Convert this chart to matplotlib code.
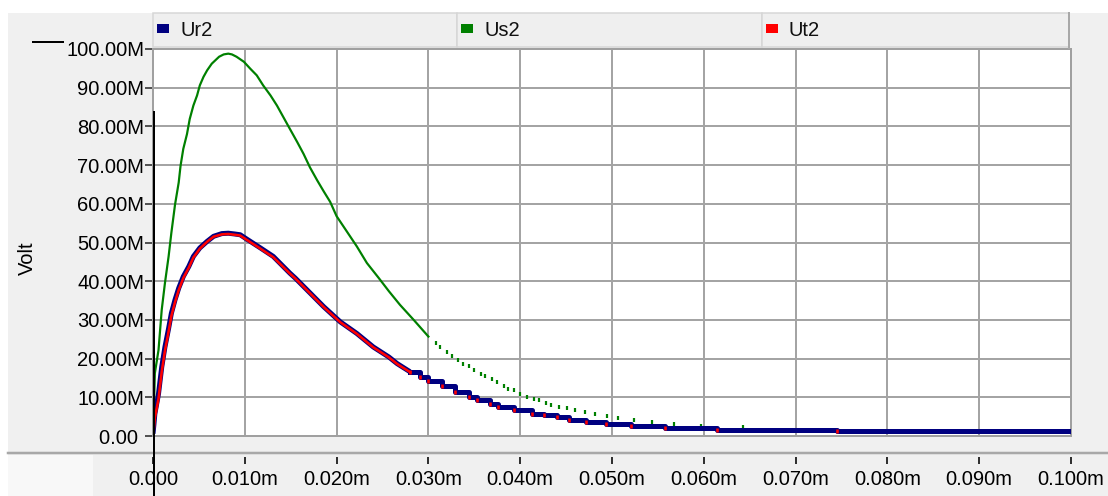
import numpy as np
import matplotlib
matplotlib.use("Agg")
import matplotlib.pyplot as plt
from matplotlib.patches import Rectangle
from matplotlib.lines import Line2D

W, H = 1108, 496

# time in the axis unit ("m"), voltage in M
us2_t = [0.0, 0.00005, 0.0002, 0.0006, 0.00095, 0.0013, 0.0017, 0.0020, 0.0024, 0.0028,
         0.0030, 0.0033, 0.0037, 0.0040, 0.0044, 0.0048, 0.0051, 0.0055, 0.0059, 0.0064,
         0.0072, 0.0077, 0.0082, 0.0086, 0.0091, 0.0099, 0.0106, 0.0113, 0.0120, 0.0128,
         0.0135, 0.0142, 0.0149, 0.0157, 0.0164, 0.0171, 0.0179, 0.0186, 0.0193, 0.0200,
         0.0211, 0.0222, 0.0233, 0.0246, 0.0257, 0.0269, 0.0284, 0.0300,
         0.0308, 0.0313, 0.0320, 0.0326, 0.0332, 0.0338, 0.0344, 0.0350, 0.0357, 0.0362,
         0.0369, 0.0375, 0.0382, 0.0387, 0.0393, 0.0400, 0.0407, 0.0415, 0.0421, 0.0428,
         0.0434, 0.0442, 0.0451, 0.0460, 0.0471, 0.0481, 0.0495, 0.0507, 0.0524, 0.0544,
         0.0567, 0.0597, 0.0643, 0.0723]
us2_v = [0.0, 3.0, 16.2, 22.2, 32.6, 39.5, 46.4, 52.5, 59.8, 65.5,
         69.8, 74.2, 78.0, 81.9, 85.4, 88.0, 90.6, 92.8, 94.5, 96.2,
         98.0, 98.6, 98.8, 98.6, 98.0, 96.7, 94.9, 93.2, 90.6, 88.0,
         85.4, 82.4, 79.4, 76.0, 72.9, 69.4, 66.0, 63.2, 60.5, 56.8,
         52.9, 49.0, 44.7, 40.8, 37.4, 33.9, 30.0, 25.7,
         24.1, 23.1, 21.8, 20.6, 19.6, 18.7, 18.0, 17.0, 16.1, 15.4,
         14.6, 13.9, 12.8, 12.2, 11.8, 10.9, 10.2, 9.6, 9.2, 8.6,
         8.1, 7.6, 7.2, 6.7, 6.2, 5.7, 5.1, 4.7, 4.2, 3.7,
         3.2, 2.6, 2.2, 1.6]

ur2_t = [0.0, 0.0001, 0.0002, 0.0006, 0.00095, 0.0013, 0.0017, 0.0020, 0.0024, 0.0028,
         0.0033, 0.0039, 0.0044, 0.0051, 0.0059, 0.0066, 0.0075, 0.0082, 0.0089, 0.0095,
         0.0102, 0.0117, 0.0131, 0.0149, 0.0155, 0.0168, 0.0186, 0.0204, 0.0222, 0.0240,
         0.0257, 0.0266, 0.0280, 0.0291, 0.0300, 0.0315, 0.0329, 0.0344, 0.0353, 0.0367,
         0.0376, 0.0393, 0.0413, 0.0426, 0.0440, 0.0453, 0.0472, 0.0493, 0.0521, 0.0558,
         0.0614, 0.0745, 0.1000]
ur2_v = [0.6, 3.0, 5.7, 10.9, 17.8, 23.0, 27.8, 31.7, 35.2, 38.2,
         41.2, 43.8, 46.4, 48.6, 50.3, 51.6, 52.3, 52.4, 52.2, 52.0,
         50.9, 48.6, 46.4, 42.1, 40.8, 37.7, 33.4, 29.5, 26.5, 23.0,
         20.4, 18.7, 16.6, 15.2, 14.2, 12.8, 11.3, 10.0, 9.4, 8.3,
         7.6, 6.8, 5.7, 5.3, 4.8, 4.2, 3.7, 3.2, 2.6, 2.1,
         1.6, 1.2, 1.2]
# Ut2 is sampled at the same times as Ur2
ut2_v = [0.0, 2.0, 4.6, 9.6, 16.6, 22.0, 27.0, 31.0, 34.6, 37.7,
         40.8, 43.5, 46.1, 48.4, 50.2, 51.5, 52.1, 52.2, 52.0, 51.8,
         50.7, 48.4, 46.2, 42.0, 40.7, 37.6, 33.3, 29.4, 26.4, 22.9,
         20.3, 18.6, 16.5, 15.2, 14.2, 12.8, 11.3, 10.0, 9.4, 8.3,
         7.6, 6.8, 5.7, 5.3, 4.8, 4.2, 3.7, 3.2, 2.6, 2.1,
         1.6, 1.2, 1.2]

legend_names = ['Ur2', 'Us2', 'Ut2']
legend_colors = ['#000080', '#008000', '#ff0000']
xticks = [0.0, 0.01, 0.02, 0.03, 0.04, 0.05, 0.06, 0.07, 0.08, 0.09, 0.1]
xtick_labels = ['0.000', '0.010m', '0.020m', '0.030m', '0.040m', '0.050m',
                '0.060m', '0.070m', '0.080m', '0.090m', '0.100m']
yticks = [0, 10, 20, 30, 40, 50, 60, 70, 80, 90, 100]
ytick_labels = ['0.00 ', '10.00M', '20.00M', '30.00M', '40.00M', '50.00M',
                '60.00M', '70.00M', '80.00M', '90.00M', '100.00M']


def fx(x):
    return x / W


def fy(y):
    return 1 - y / H


def pt(p):
    # pixels -> points at 100 dpi
    return p * 0.72


plt.rcParams['font.family'] = ['Liberation Sans', 'DejaVu Sans']
FS = 14.5

fig = plt.figure(figsize=(W / 100, H / 100), dpi=100, facecolor='white')

# gray panel behind everything
fig.add_artist(Rectangle((fx(8), 0), fx(W - 8), fy(13), transform=fig.transFigure,
                         facecolor='#f0f0f0', edgecolor='none', zorder=0))
fig.add_artist(Rectangle((fx(8), 0), fx(85), fy(455), transform=fig.transFigure,
                         facecolor='#f8f8f8', edgecolor='none', zorder=0.5))

ax = fig.add_axes([fx(153), fy(436), fx(1071 - 153), (436 - 49) / H])
ax.set_facecolor('white')
ax.set_xlim(0, 0.1)
ax.set_ylim(0, 100)

ax.grid(True, color='#a4a4a4', lw=pt(2), zorder=1)
ax.set_axisbelow(True)

for s in ['left', 'top', 'right']:
    ax.spines[s].set_color('#a0a0a0')
    ax.spines[s].set_linewidth(pt(2))
ax.spines['bottom'].set_position(('outward', pt(21)))
ax.spines['bottom'].set_visible(False)
ax.add_patch(Rectangle((0, 0), 1, 1, transform=ax.transAxes, fill=False,
                       edgecolor='#a0a0a0', lw=pt(2), clip_on=False, zorder=2))

ax.set_xticks(xticks)
ax.set_xticklabels(xtick_labels, fontsize=FS)
ax.set_yticks(yticks)
ax.set_yticklabels(ytick_labels, fontsize=FS)
ax.tick_params(axis='x', direction='out', length=pt(7), width=pt(2),
               color='#303030', pad=pt(6))
ax.tick_params(axis='y', direction='out', length=pt(8), width=pt(1.5),
               color='#202020', pad=pt(1))

# Us2: continuous while samples are dense, single marks where they thin out
us2_t = np.array(us2_t)
us2_v = np.array(us2_v)
dense = us2_t <= 0.0300
ax.plot(us2_t[dense], us2_v[dense], color='#008000', lw=pt(2.2), zorder=3)
ax.plot(us2_t[~dense], us2_v[~dense], ls='none', marker='|', ms=pt(5),
        mew=pt(2.2), color='#008000', zorder=3)

# Ur2: thick navy, stepped in the tail
ur2_t = np.array(ur2_t)
ur2_v = np.array(ur2_v)
ut2_v = np.array(ut2_v)
k = np.searchsorted(ur2_t, 0.0280) + 1
ax.plot(ur2_t[:k], ur2_v[:k], color='#000080', lw=pt(5), zorder=4,
        solid_capstyle='butt')
ax.step(ur2_t[k - 1:], ur2_v[k - 1:], where='post', color='#000080', lw=pt(5),
        zorder=4)

# Ut2: red on top
ax.plot(ur2_t[:k], ut2_v[:k], color='#ff0000', lw=pt(2.6), zorder=5)
tail = (ur2_t >= 0.0280) & (ur2_t < 0.1)
ax.plot(ur2_t[tail], ut2_v[tail], ls='none', marker='|', ms=pt(5), mew=pt(2.6),
        color='#ff0000', zorder=5)

# legend header
cells = [153, 457, 762, 1069]
for i, name in enumerate(legend_names):
    x0, x1 = cells[i], cells[i + 1]
    fig.add_artist(Rectangle((fx(x0), fy(47)), fx(x1 - x0), (47 - 13) / H,
                             transform=fig.transFigure, facecolor='#efefef',
                             edgecolor='#d6d6d6', lw=pt(1.5), zorder=1))
    fig.add_artist(Rectangle((fx(x0 + 4), fy(33)), fx(12), 9 / H,
                             transform=fig.transFigure, facecolor=legend_colors[i],
                             edgecolor='none', zorder=2))
    fig.text(fx(x0 + 27), fy(31), name, fontsize=FS, ha='left', va='center',
             color='#101010')
fig.add_artist(Line2D([fx(1069), fx(1069)], [fy(13), fy(48)], transform=fig.transFigure,
                      color='#a8a8a8', lw=pt(2)))

# separator above the x labels
fig.add_artist(Line2D([fx(8), 1], [fy(453), fy(453)], transform=fig.transFigure,
                      color='#a8a8a8', lw=pt(2.5)))

fig.text(fx(27), fy(258), 'Volt', rotation=90, fontsize=FS, ha='center', va='center')

# cursor lines
fig.add_artist(Line2D([fx(153.5), fx(153.5)], [fy(112), 0], transform=fig.transFigure,
                      color='black', lw=pt(2), zorder=10))
fig.add_artist(Line2D([fx(33), fx(63)], [fy(41.5), fy(41.5)], transform=fig.transFigure,
                      color='black', lw=pt(2), zorder=10))

fig.savefig('out.png', dpi=100)
